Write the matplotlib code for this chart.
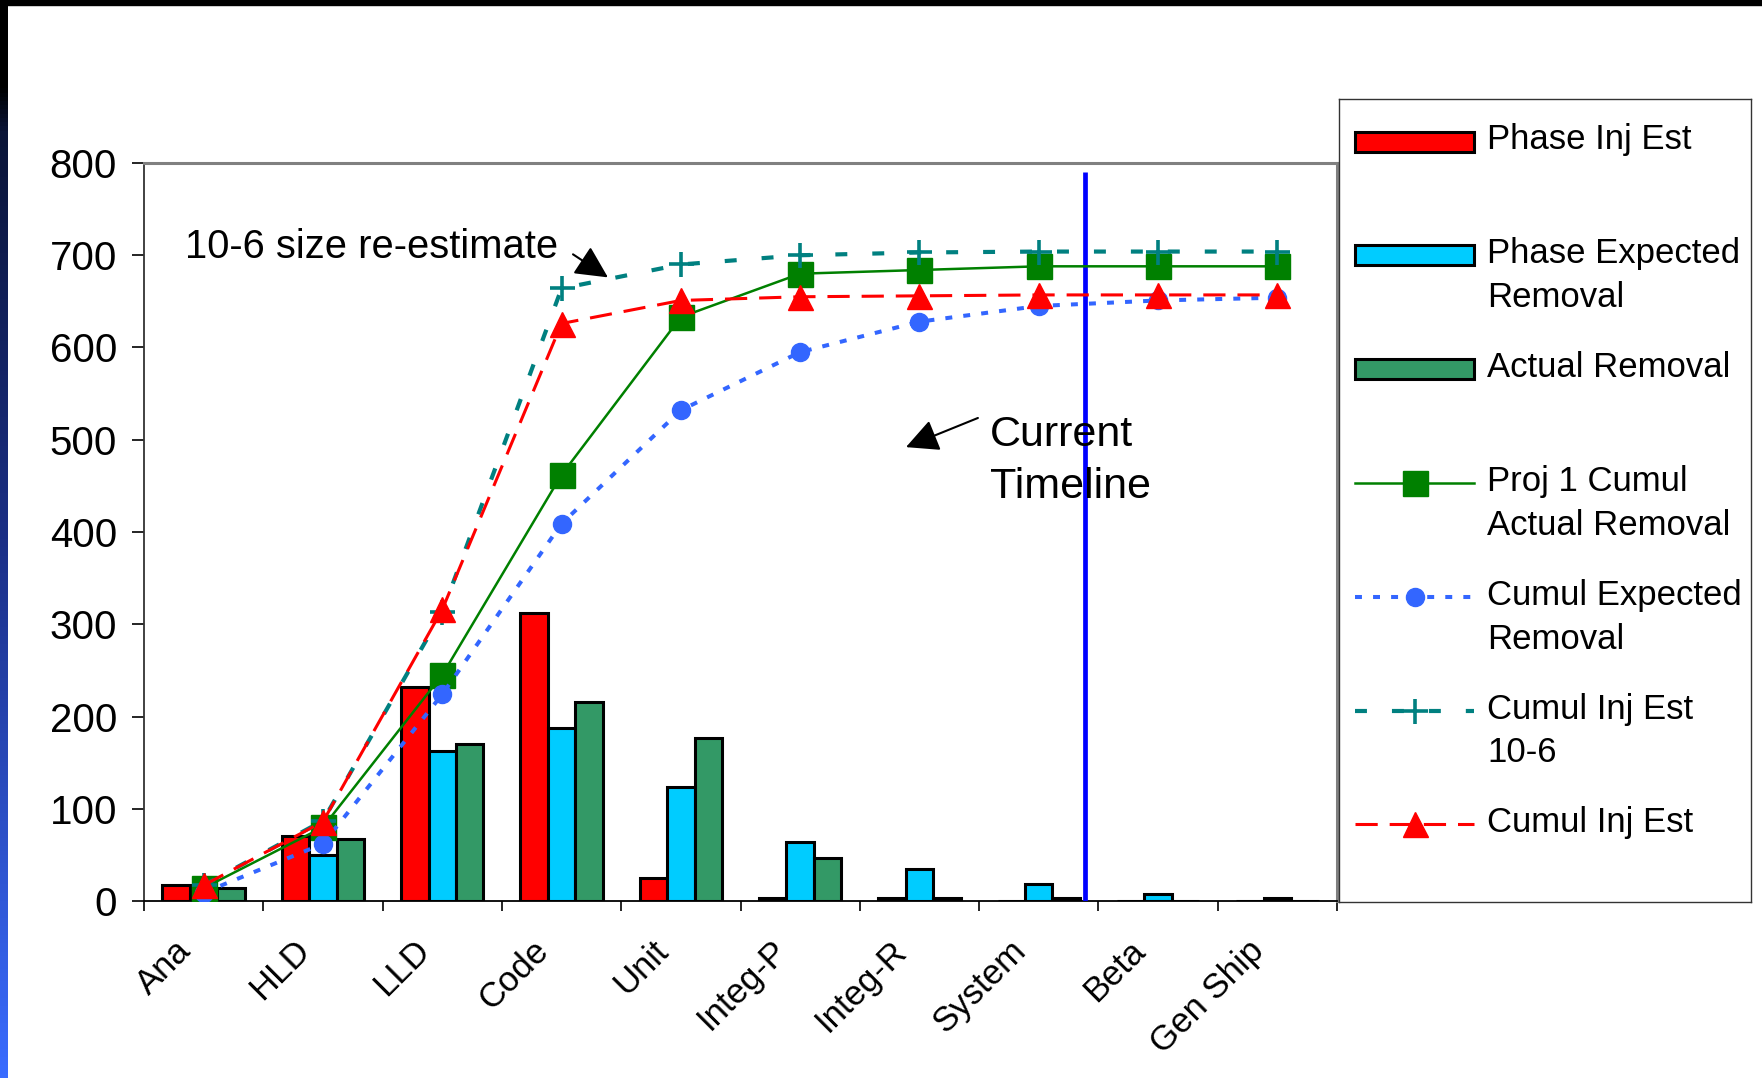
import numpy as np
import matplotlib
matplotlib.use('Agg')
import matplotlib.pyplot as plt
import matplotlib.transforms as mtransforms
from matplotlib.colors import LinearSegmentedColormap
from matplotlib.patches import Rectangle

plt.rcParams['font.family'] = ['Liberation Sans', 'DejaVu Sans']
plt.rcParams['lines.scale_dashes'] = False

phases = ['Ana', 'HLD', 'LLD', 'Code', 'Unit', 'Integ-P', 'Integ-R',
          'System', 'Beta', 'Gen Ship']

# per-phase bars
phase_inj_est = [17, 70, 232, 312, 25, 3, 3, 0, 0, 0]
phase_expected_removal = [8, 50, 163, 187, 124, 64, 35, 18, 8, 3]
actual_removal = [14, 67, 170, 216, 177, 47, 3, 3, 0, 0]

# cumulative lines
proj1_cumul_actual = [14, 80, 245, 462, 633, 680, 684, 688, 688, 688]
cumul_expected = [9, 62, 224, 409, 532, 595, 628, 645, 651, 654]
cumul_inj_est_106 = [17, 87, 313, 664, 690, 700, 703, 704, 704, 704]
cumul_inj_est = [17, 86, 316, 626, 651, 655, 656, 657, 657, 657]

current_timeline = 7.39

bar_series = [
    ('Phase Inj Est', phase_inj_est, '#FF0000'),
    ('Phase Expected\nRemoval', phase_expected_removal, '#00CCFF'),
    ('Actual Removal', actual_removal, '#339966'),
]
line_series = [
    ('Proj 1 Cumul\nActual Removal', proj1_cumul_actual,
     dict(color='#008000', lw=1.8, ls='-', marker='s', ms=18, mec='#008000')),
    ('Cumul Expected\nRemoval', cumul_expected,
     dict(color='#3366FF', lw=2.9, ls=(0, (5, 8)), marker='o', ms=13)),
    ('Cumul Inj Est\n10-6', cumul_inj_est_106,
     dict(color='#008080', lw=3.0, ls=(0, (8.6, 18)), marker='+', ms=18, mew=2.6)),
    ('Cumul Inj Est', cumul_inj_est,
     dict(color='#FF0000', lw=2.2, ls=(0, (16, 8.6)), marker='^', ms=18)),
]

fig = plt.figure(figsize=(17.62, 10.78), dpi=100)

# slide decoration: black top band, blue gradient on the left edge
fig.add_artist(Rectangle((0, 1 - 5 / 1078), 1, 5 / 1078, transform=fig.transFigure,
                         color='black', zorder=0))
strip = fig.add_axes([0, 0, 8 / 1762, 1])
edge_cmap = LinearSegmentedColormap.from_list(
    'edge', [(0, '#000000'), (0.08, '#000000'), (0.12, '#0a1436'),
             (0.5, '#1b2f86'), (1, '#3a6cff')])
strip.imshow(np.linspace(0, 1, 256).reshape(-1, 1), aspect='auto', cmap=edge_cmap)
strip.axis('off')

ax = fig.add_axes([144 / 1762, 1 - 901 / 1078, 1193 / 1762, 738 / 1078])
x = np.arange(len(phases))
w = 0.23
for i, (name, vals, col) in enumerate(bar_series):
    ax.bar(x + (i - 1) * w, vals, w, color=col, edgecolor='black', linewidth=2.2, zorder=2)

for name, vals, st in line_series:
    ax.plot(x, vals, zorder=4, **st)

ax.vlines(current_timeline, 0, 790, color='#0000FF', lw=3.4, zorder=3)

ax.set_xlim(-0.5, 9.5)
ax.set_ylim(0, 800)
ax.set_yticks(range(0, 801, 100))
ax.set_xticks(x)
ax.set_xticklabels(phases, rotation=45, ha='right', va='center', rotation_mode='anchor')
ax.set_xticks(np.arange(-0.5, 10, 1), minor=True)
ax.tick_params(axis='x', which='major', length=0, pad=32, labelsize=25)
ax.tick_params(axis='x', which='minor', length=7, width=1.2, direction='out')
ax.tick_params(axis='y', length=9, width=1.2, pad=10.5, labelsize=29)
shift = mtransforms.ScaledTranslation(-13 / 72, 0, fig.dpi_scale_trans)
for lab in ax.get_xticklabels():
    lab.set_transform(lab.get_transform() + shift)

for side in ['top', 'right']:
    ax.spines[side].set_color('#808080')
    ax.spines[side].set_linewidth(2.2)
ax.spines['left'].set_color('#333333')
ax.spines['left'].set_linewidth(1.3)
ax.spines['bottom'].set_linewidth(1.3)

ax.text(-0.156, 709, '10-6 size re-estimate', fontsize=28.7, va='center', ha='left', zorder=7)
ax.annotate('', xy=(3.389, 676), xytext=(3.096, 701),
            arrowprops=dict(arrowstyle='-|>,head_length=1.0,head_width=0.5',
                            mutation_scale=20, color='black', lw=1.5,
                            shrinkA=0, shrinkB=0), zorder=7)
ax.text(6.59, 477, 'Current\nTimeline', fontsize=31, va='center', ha='left',
        linespacing=1.4, zorder=7)
ax.annotate('', xy=(5.887, 492), xytext=(6.49, 523.6),
            arrowprops=dict(arrowstyle='-|>,head_length=1.0,head_width=0.5',
                            mutation_scale=20, color='black', lw=1.5,
                            shrinkA=0, shrinkB=0), zorder=7)

# legend box drawn by hand, Excel style (handle on first text line)
leg = fig.add_axes([1339 / 1762, 1 - 902 / 1078, 412 / 1762, 803 / 1078])
leg.set_xlim(0, 412)
leg.set_ylim(803, 0)
leg.set_xticks([])
leg.set_yticks([])
for s in leg.spines.values():
    s.set_color('#333333')
    s.set_linewidth(1)

entries = [(n, 'bar', c) for n, _, c in bar_series] + [(n, 'line', st) for n, _, st in line_series]
for i, (name, kind, st) in enumerate(entries):
    ry = 42.5 + i * 113.8
    if kind == 'bar':
        leg.add_patch(Rectangle((16, ry - 10), 119, 20, facecolor=st,
                                edgecolor='black', linewidth=2.2))
    else:
        leg.plot([16, 75.5, 135], [ry, ry, ry], markevery=[1], **st)
    for k, line in enumerate(name.split('\n')):
        leg.text(148, ry - 1.5 + k * 44, line, fontsize=25, va='center', ha='left')

fig.savefig('out.png', dpi=100)
